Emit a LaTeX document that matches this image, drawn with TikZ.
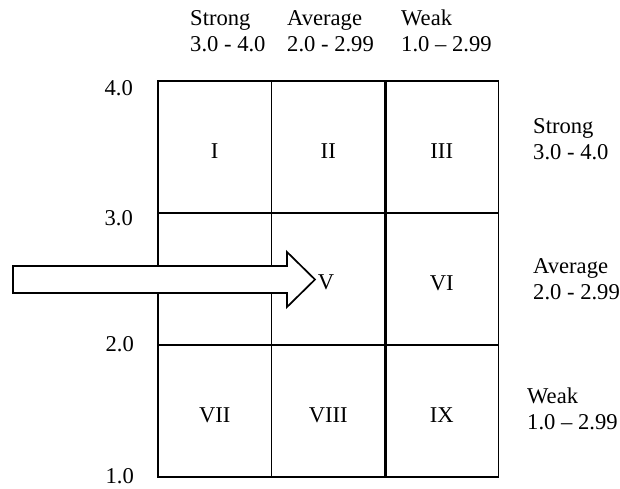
\documentclass[tikz,border=0pt]{standalone}
\usepackage{fontspec}
\setmainfont{Liberation Serif}
\begin{document}
\begin{tikzpicture}[x=1pt,y=-1pt,
  font=\fontsize{22.6}{26}\selectfont,
  cell/.style={draw=black, line width=1.9pt, minimum width=113.5pt, minimum height=132pt,
    inner sep=0pt, text height=22pt, text depth=0pt},
  lbl/.style={anchor=base west, inner sep=0pt},
  axl/.style={anchor=base east, inner sep=0pt}]
\useasboundingbox (0,0) rectangle (620,488);
% grid cells
\node[cell] (c11) at (214.75,147) {I};
\node[cell] (c12) at (328.25,147) {II};
\node[cell] (c13) at (441.75,147) {III};
\node[cell] (c21) at (214.75,279) {};
\node[cell] (c22) at (328.25,279) {};
\node[cell] (c23) at (441.75,279) {VI};
\node[cell] (c31) at (214.75,411) {VII};
\node[cell] (c32) at (328.25,411) {VIII};
\node[cell] (c33) at (441.75,411) {IX};
\draw[line width=2.8pt] (c12.north east) -- (c32.south east);
% arrow
\draw[line width=1.7pt, fill=white, line join=miter]
  (13,266) -- (287,266) -- (287,252) -- (315,279.5) -- (287,307) -- (287,293) -- (13,293) -- cycle;
\node[inner sep=0pt] (v) at (326,282) {V};
% top labels
\node[lbl] (ts1) at (190,25) {Strong};
\node[lbl] (ts2) at (190,51) {3.0 - 4.0};
\node[lbl] (ta1) at (287,25) {Average};
\node[lbl] (ta2) at (287,51) {2.0 - 2.99};
\node[lbl] (tw1) at (401,25) {Weak};
\node[lbl] (tw2) at (401,51) {1.0 – 2.99};
% right labels
\node[lbl] (rs1) at (533,133) {Strong};
\node[lbl] (rs2) at (533,159) {3.0 - 4.0};
\node[lbl] (ra1) at (533,273) {Average};
\node[lbl] (ra2) at (533,299) {2.0 - 2.99};
\node[lbl] (rw1) at (527,403) {Weak};
\node[lbl] (rw2) at (527,429) {1.0 – 2.99};
% left axis labels
\node[axl] (l4) at (133,95) {4.0};
\node[axl] (l3) at (133,225) {3.0};
\node[axl] (l2) at (134,351) {2.0};
\node[axl] (l1) at (134,483) {1.0};
\end{tikzpicture}
\end{document}
